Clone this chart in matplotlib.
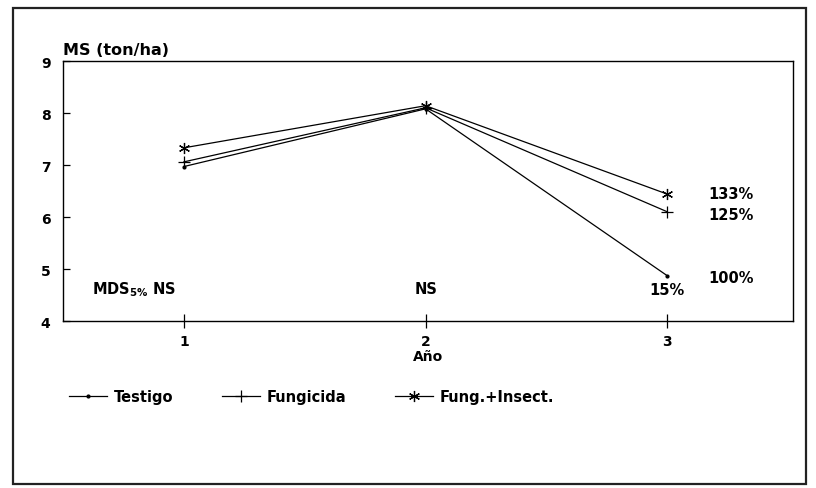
import matplotlib.pyplot as plt
from matplotlib.patches import Rectangle
import numpy as np

plt.rcParams['font.family'] = ['DejaVu Sans']
plt.rcParams['font.weight'] = 'bold'

anios = [1, 2, 3]
testigo = [6.97, 8.08, 4.87]
fungicida = [7.06, 8.10, 6.10]
fung_insect = [7.33, 8.14, 6.44]
etiquetas_pct = ["100%", "125%", "133%"]
pos_pct = [4.83, 6.05, 6.45]

fig = plt.figure(figsize=(8.16, 4.89), dpi=100)
ax = fig.add_axes([63 / 816, 1 - 322 / 489, (793 - 63) / 816, (322 - 62) / 489])

# marco exterior
fig.patches.append(Rectangle((13 / 816, 4 / 489), (806 - 13) / 816, (480 - 4) / 489,
                             transform=fig.transFigure, fill=False, lw=1.6,
                             edgecolor='#222222'))

p1, = ax.plot(anios, testigo, color='black', lw=0.9, marker='.', ms=4)
p2, = ax.plot(anios, fungicida, color='black', lw=0.9, marker='+', ms=8, mew=0.9)
p3, = ax.plot(anios, fung_insect, color='black', lw=0.9, marker=(6, 2, 0), ms=8, mew=0.9)

ax.set_xlim(0.5, 3.52)
ax.set_ylim(4, 9)
ax.set_xticks(anios)
ax.set_yticks([4, 5, 6, 7, 8, 9])
ax.tick_params(axis='y', direction='in', length=5, width=0.9, labelsize=10, pad=9)
ax.tick_params(axis='x', direction='inout', length=10, width=0.9, labelsize=10, pad=4)
for s in ax.spines.values():
    s.set_linewidth(1.0)

ax.set_xlabel("Año", fontsize=10, fontweight='bold', labelpad=1)
ax.text(0.0, 1.015, "MS (ton/ha)", transform=ax.transAxes, fontsize=11.5,
        fontweight='bold', ha='left', va='bottom')

# etiquetas a la derecha
for yy, lab in zip(pos_pct, etiquetas_pct):
    ax.text(3.17, yy, lab, fontsize=10.5, fontweight='bold', va='center', ha='left')

ax.text(0.62, 4.62, r"MDS$_{\mathbf{5\%}}$ NS", fontsize=10.5, fontweight='bold', va='center')
ax.text(2, 4.62, "NS", fontsize=10.5, fontweight='bold', ha='center', va='center')
ax.text(3, 4.6, "15%", fontsize=10.5, fontweight='bold', ha='center', va='center')

ax.legend([p1, p2, p3], ["Testigo", "Fungicida", "Fung.+Insect."],
          loc='upper left', bbox_to_anchor=(-0.01, -0.21), ncol=3, frameon=False,
          fontsize=10.5, handlelength=2.6, columnspacing=3.3, handletextpad=0.5)

fig.savefig("out.png", dpi=100)
